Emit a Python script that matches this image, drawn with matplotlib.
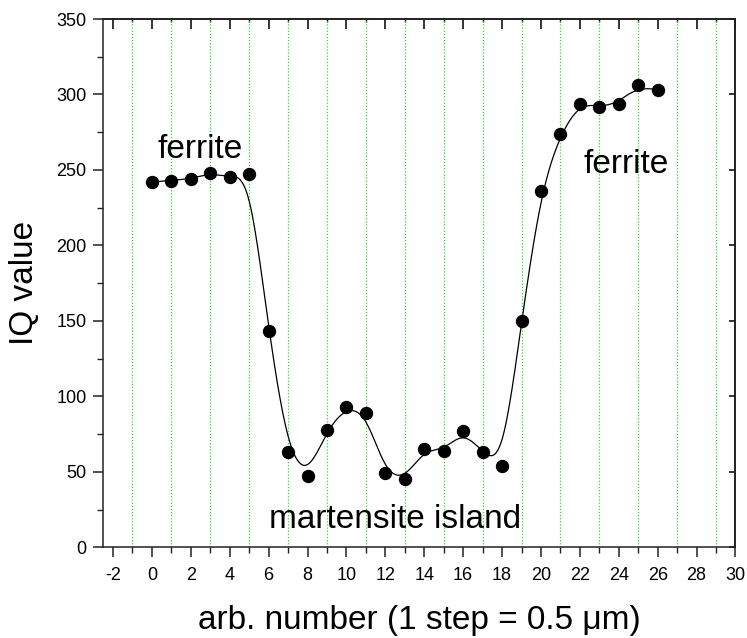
import numpy as np
import matplotlib

matplotlib.use("Agg")
import matplotlib.pyplot as plt
from matplotlib.ticker import MultipleLocator

plt.rcParams["font.family"] = ["Liberation Sans", "DejaVu Sans"]
plt.rcParams["axes.unicode_minus"] = False

# step index along the line scan and measured IQ value
step = np.arange(27)
iq_value = [
    242, 243, 244, 248, 245, 247, 143, 63, 47, 78, 93, 89, 49, 45,
    65, 64, 77, 63, 54, 150, 236, 274, 294, 292, 294, 306, 303,
]

labels = ["ferrite", "martensite island", "ferrite"]
label_xy = [(0.3, 258), (6.0, 13), (22.2, 248)]


def bspline(px, py, degree=3, samples=600):
    # clamped uniform B-spline using the points as control points
    # (the "B-Spline" line connection of the original plot)
    ctrl = np.column_stack([px, py]).astype(float)
    n = len(ctrl)
    inner = np.arange(1, n - degree)
    knots = np.concatenate([np.zeros(degree + 1), inner, np.full(degree + 1, n - degree)])
    t = np.linspace(0, n - degree, samples)
    t[-1] -= 1e-9
    basis = np.zeros((samples, len(knots) - 1))
    for i in range(len(knots) - 1):
        basis[:, i] = (knots[i] <= t) & (t < knots[i + 1])
    for k in range(1, degree + 1):
        new = np.zeros((samples, len(knots) - 1 - k))
        for i in range(len(knots) - 1 - k):
            left = 0.0
            d1 = knots[i + k] - knots[i]
            if d1 > 0:
                left = (t - knots[i]) / d1 * basis[:, i]
            right = 0.0
            d2 = knots[i + k + 1] - knots[i + 1]
            if d2 > 0:
                right = (knots[i + k + 1] - t) / d2 * basis[:, i + 1]
            new[:, i] = left + right
        basis = new
    curve = basis @ ctrl
    return curve[:, 0], curve[:, 1]


fig = plt.figure(figsize=(7.47, 6.38), dpi=100)
ax = fig.add_axes([0.1383, 0.1422, 0.8463, 0.828])

cx, cy = bspline(step, iq_value)
ax.plot(cx, cy, color="black", lw=0.9, zorder=3)
ax.plot(step, iq_value, "o", color="black", ms=8.6, zorder=4)

for text, (tx, ty) in zip(labels, label_xy):
    ax.text(tx, ty, text, fontsize=24, ha="left", va="baseline")

ax.set_xlim(-2.5, 30)
ax.set_ylim(0, 350)
ax.xaxis.set_major_locator(MultipleLocator(2))
ax.xaxis.set_minor_locator(MultipleLocator(1))
ax.yaxis.set_major_locator(MultipleLocator(50))
ax.yaxis.set_minor_locator(MultipleLocator(25))

ax.grid(which="minor", axis="x", color="#22e022", ls=(0, (1, 1.5)), lw=0.9)
ax.set_axisbelow(True)

for sp in ax.spines.values():
    sp.set_linewidth(1.1)
    sp.set_color("#222222")

ax.tick_params(which="major", direction="out", length=7, width=1.1,
               labelsize=13, pad=5, color="#222222")
ax.tick_params(which="minor", direction="out", length=4, width=1.0, color="#222222")
ax.tick_params(axis="x", which="major", pad=7)

# inward ticks on the top and right borders, no labels
top = ax.secondary_xaxis("top")
top.set_xticks(np.arange(-2, 31, 2))
top.xaxis.set_minor_locator(MultipleLocator(1))
top.tick_params(which="major", direction="in", length=7.5, width=1.1, labeltop=False)
top.tick_params(which="minor", direction="in", length=2, width=1.0)
top.spines["top"].set_linewidth(1.1)
right = ax.secondary_yaxis("right")
right.set_yticks(np.arange(0, 351, 50))
right.yaxis.set_minor_locator(MultipleLocator(25))
right.tick_params(which="major", direction="in", length=4.5, width=1.1, labelright=False)
right.tick_params(which="minor", direction="in", length=0, width=1.0)
right.spines["right"].set_linewidth(1.1)

ax.set_xlabel("arb. number (1 step = 0.5 μm)", fontsize=24, labelpad=15)
ax.set_ylabel("IQ value", fontsize=24, labelpad=12)

fig.savefig("out.png", dpi=100)
